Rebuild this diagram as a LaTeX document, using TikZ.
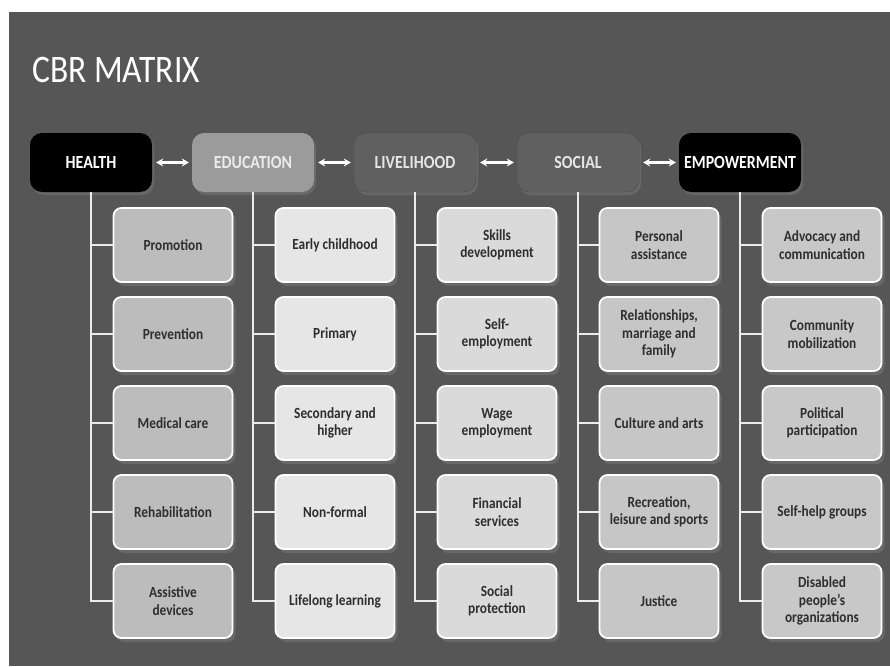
\documentclass[tikz,border=0pt]{standalone}
\usepackage{fontspec}
\setmainfont[FakeStretch=0.86]{Carlito}
\usetikzlibrary{arrows.meta,shadows}

\definecolor{panelgray}{RGB}{86,86,86}
\definecolor{headdark}{RGB}{96,96,96}
\definecolor{headlight}{RGB}{155,155,155}
\definecolor{healthfill}{RGB}{188,188,188}
\definecolor{edufill}{RGB}{230,230,230}
\definecolor{livefill}{RGB}{218,218,218}
\definecolor{socialfill}{RGB}{198,198,198}
\definecolor{empfill}{RGB}{200,200,200}
\definecolor{linkgray}{RGB}{235,235,235}

\begin{document}
\begin{tikzpicture}[x=1pt, y=-1pt,
    font=\fontsize{15.5}{17.5}\selectfont\bfseries,
    title/.style={text=white, font=\fontsize{39}{44}\selectfont, inner sep=0pt},
    head/.style={rounded corners=12pt, minimum width=122pt, minimum height=59pt,
                 font=\fontsize{18.5}{22}\selectfont\bfseries,
                 drop shadow={opacity=0.45, shadow xshift=2pt, shadow yshift=-3pt}},
    headblack/.style={head, fill=black, text=white},
    headgray/.style={head, fill=headdark, draw=black!70, text=black!10},
    headpale/.style={head, fill=headlight, text=black!8},
    box/.style={draw=white, line width=1.8pt, rounded corners=8pt,
                minimum width=119pt, minimum height=74pt, align=center,
                text=black!82, inner sep=2pt,
                drop shadow={opacity=0.45, shadow xshift=3pt, shadow yshift=-4pt}},
    healthbox/.style={box, fill=healthfill},
    edubox/.style={box, fill=edufill},
    livebox/.style={box, fill=livefill},
    socialbox/.style={box, fill=socialfill},
    empbox/.style={box, fill=empfill},
    link/.style={draw=linkgray, line width=1.8pt},
    biarrow/.style={draw=white, line width=2.2pt,
                    {Stealth[length=7pt,width=8pt]}-{Stealth[length=7pt,width=8pt]},
                    shorten <=4pt, shorten >=3pt}
  ]

  % page and panel
  \useasboundingbox (0,0) rectangle (890,666);
  \fill[white] (0,0) rectangle (890,666);
  \fill[panelgray] (9,12) rectangle (890,666);

  \node[title, anchor=base west] (title) at (32,83) {CBR MATRIX};

  % top row
  \node[headblack] (health) at (91,162.5) {HEALTH};
  \node[headpale] (edu) at (253,162.5) {EDUCATION};
  \node[headgray] (live) at (415,162.5) {LIVELIHOOD};
  \node[headgray] (social) at (578,162.5) {SOCIAL};
  \node[headblack] (emp) at (740,162.5) {EMPOWERMENT};

  \draw[biarrow] (health.east) -- (edu.west);
  \draw[biarrow] (edu.east) -- (live.west);
  \draw[biarrow] (live.east) -- (social.west);
  \draw[biarrow] (social.east) -- (emp.west);

  % health column
  \node[healthbox] (health1) at (173,245) {Promotion};
  \node[healthbox] (health2) at (173,334) {Prevention};
  \node[healthbox] (health3) at (173,423) {Medical care};
  \node[healthbox] (health4) at (173,512) {Rehabilitation};
  \node[healthbox] (health5) at (173,601) {Assistive\\devices};

  % education column
  \node[edubox] (edu1) at (335,245) {Early childhood};
  \node[edubox] (edu2) at (335,334) {Primary};
  \node[edubox] (edu3) at (335,423) {Secondary and\\higher};
  \node[edubox] (edu4) at (335,512) {Non-formal};
  \node[edubox] (edu5) at (335,601) {Lifelong learning};

  % livelihood column
  \node[livebox] (live1) at (497,245) {Skills\\development};
  \node[livebox] (live2) at (497,334) {Self-\\employment};
  \node[livebox] (live3) at (497,423) {Wage\\employment};
  \node[livebox] (live4) at (497,512) {Financial\\services};
  \node[livebox] (live5) at (497,601) {Social\\protection};

  % social column
  \node[socialbox] (social1) at (659,245) {Personal\\assistance};
  \node[socialbox] (social2) at (659,334) {Relationships,\\marriage and\\family};
  \node[socialbox] (social3) at (659,423) {Culture and arts};
  \node[socialbox] (social4) at (659,512) {Recreation,\\leisure and sports};
  \node[socialbox] (social5) at (659,601) {Justice};

  % empowerment column
  \node[empbox] (emp1) at (822,245) {Advocacy and\\communication};
  \node[empbox] (emp2) at (822,334) {Community\\mobilization};
  \node[empbox] (emp3) at (822,423) {Political\\participation};
  \node[empbox] (emp4) at (822,512) {Self-help groups};
  \node[empbox] (emp5) at (822,601) {Disabled\\people's\\organizations};

  % tree lines
  \draw[link] (health.south) |- (health5.west);
  \draw[link] (health.south |- health1.west) -- (health1.west);
  \draw[link] (health.south |- health2.west) -- (health2.west);
  \draw[link] (health.south |- health3.west) -- (health3.west);
  \draw[link] (health.south |- health4.west) -- (health4.west);

  \draw[link] (edu.south) |- (edu5.west);
  \draw[link] (edu.south |- edu1.west) -- (edu1.west);
  \draw[link] (edu.south |- edu2.west) -- (edu2.west);
  \draw[link] (edu.south |- edu3.west) -- (edu3.west);
  \draw[link] (edu.south |- edu4.west) -- (edu4.west);

  \draw[link] (live.south) |- (live5.west);
  \draw[link] (live.south |- live1.west) -- (live1.west);
  \draw[link] (live.south |- live2.west) -- (live2.west);
  \draw[link] (live.south |- live3.west) -- (live3.west);
  \draw[link] (live.south |- live4.west) -- (live4.west);

  \draw[link] (social.south) |- (social5.west);
  \draw[link] (social.south |- social1.west) -- (social1.west);
  \draw[link] (social.south |- social2.west) -- (social2.west);
  \draw[link] (social.south |- social3.west) -- (social3.west);
  \draw[link] (social.south |- social4.west) -- (social4.west);

  \draw[link] (emp.south) |- (emp5.west);
  \draw[link] (emp.south |- emp1.west) -- (emp1.west);
  \draw[link] (emp.south |- emp2.west) -- (emp2.west);
  \draw[link] (emp.south |- emp3.west) -- (emp3.west);
  \draw[link] (emp.south |- emp4.west) -- (emp4.west);

\end{tikzpicture}
\end{document}
